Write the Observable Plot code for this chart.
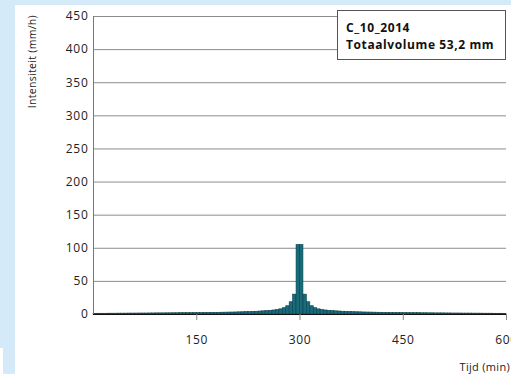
<!DOCTYPE html>
<html><head><meta charset="utf-8">
<script src="https://cdn.jsdelivr.net/npm/d3@7"></script>
<script src="https://cdn.jsdelivr.net/npm/@observablehq/plot@0.6"></script>
<style>
html,body{margin:0;padding:0;}
body{width:511px;height:374px;background:#d5eaf8;position:relative;overflow:hidden;font-family:"Open Sans",Lato,sans-serif;}
#panel{position:absolute;left:15px;top:5px;right:0;bottom:0;background:#fff;}
#nub{position:absolute;left:0;top:348px;width:3px;height:26px;background:#fff;}
#chart{position:absolute;left:0;top:0;}
#legend{position:absolute;left:337px;top:10px;width:169px;height:50px;border:1px solid #555;background:#fff;box-sizing:border-box;font-weight:bold;font-size:12px;letter-spacing:0.6px;color:#111;padding:8px 0 0 8px;line-height:17px;}
svg g[aria-label="y-axis tick label"] text, svg g[aria-label="x-axis tick label"] text{letter-spacing:0.7px;}
</style>
</head><body>
<div id="panel"></div>
<div id="nub"></div>
<div id="chart"></div>
<div id="legend"><div id="lg1"></div><div id="lg2"></div></div>
<script>
// Data (5-minute bins, mm/h)
const binMinutes = 5;
const leftHalf = [
  1.0,1.1,1.1,1.1,1.2,1.2,1.2,1.3,1.3,1.3,
  1.4,1.4,1.4,1.5,1.5,1.5,1.6,1.6,1.7,1.7,
  1.7,1.8,1.8,1.9,1.9,2.0,2.0,2.1,2.1,2.2,
  2.2,2.3,2.3,2.4,2.5,2.5,2.6,2.7,2.8,2.9,
  3.0,3.1,3.3,3.4,3.6,3.8,4.0,4.2,4.5,4.8,
  5.2,5.6,6.1,6.8,7.8,9.5,12.5,18.5,30,105
];
const rightHalf = [
  105,30,18.5,12.5,9.5,7.8,6.8,6.1,5.6,5.2,
  4.8,4.5,4.2,4.0,3.8,3.6,3.4,3.3,3.1,3.0,
  2.9,2.8,2.7,2.6,2.5,2.5,2.4,2.3,2.3,2.2,
  2.2,2.1,2.1,2.0,2.0,1.9,1.9,1.8,1.8,1.7,
  1.7,1.7,1.6,1.6,1.5,1.5,1.5,1.4,1.4,1.4,
  1.3,1.3,1.3,1.2,1.2,1.2,1.1,1.1,1.1,1.0
];
const intensity = leftHalf.concat(rightHalf);
const yTicks = [0,50,100,150,200,250,300,350,400,450];
const xTicks = [150,300,450,600];
const stormName = "C_10_2014";
const volumeLabel = "Totaalvolume 53,2 mm";
const yLabel = "Intensiteit (mm/h)";
const xLabel = "Tijd (min)";

const bars = intensity.map((v, i) => ({start: i * binMinutes, end: (i + 1) * binMinutes, value: v}));

const plot = Plot.plot({
  width: 511,
  height: 374,
  marginLeft: 93,
  marginRight: 5,
  marginTop: 16,
  marginBottom: 60,
  style: {background: "transparent", fontFamily: "'Open Sans', Lato, sans-serif", fontSize: "12px", color: "#222", overflow: "visible"},
  x: {domain: [0, 600]},
  y: {domain: [0, 450]},
  marks: [
    Plot.gridY(yTicks, {stroke: "#8c8c8c", strokeOpacity: 1, strokeWidth: 1}),
    Plot.rectY(bars, {x1: "start", x2: "end", y: "value", fill: "#176b7b", stroke: "#0c3f49", strokeWidth: 0.6, inset: 0}),
    Plot.ruleX([0], {stroke: "#777", strokeWidth: 1}),
    Plot.ruleY([0], {stroke: "#111", strokeWidth: 1}),
    Plot.axisY(yTicks, {tickSize: 0, tickPadding: 5, label: null, fill: "#222"}),
    Plot.axisX(xTicks, {tickSize: 6, tickPadding: 15, label: null, stroke: "#888", fill: "#222"})
  ]
});
document.getElementById("chart").appendChild(plot);

const svg = d3.select(plot);
svg.append("text")
  .attr("transform", "translate(36,15) rotate(-90)")
  .attr("text-anchor", "end")
  .attr("font-size", "10.5px")
  .attr("letter-spacing", "0.3px")
  .attr("fill", "#222")
  .text(yLabel);
svg.append("text")
  .attr("x", 510).attr("y", 371)
  .attr("text-anchor", "end")
  .attr("font-size", "11px")
  .attr("letter-spacing", "0.3px")
  .attr("fill", "#222")
  .text(xLabel);

document.getElementById("lg1").textContent = stormName;
document.getElementById("lg2").textContent = volumeLabel;
</script>
</body></html>
